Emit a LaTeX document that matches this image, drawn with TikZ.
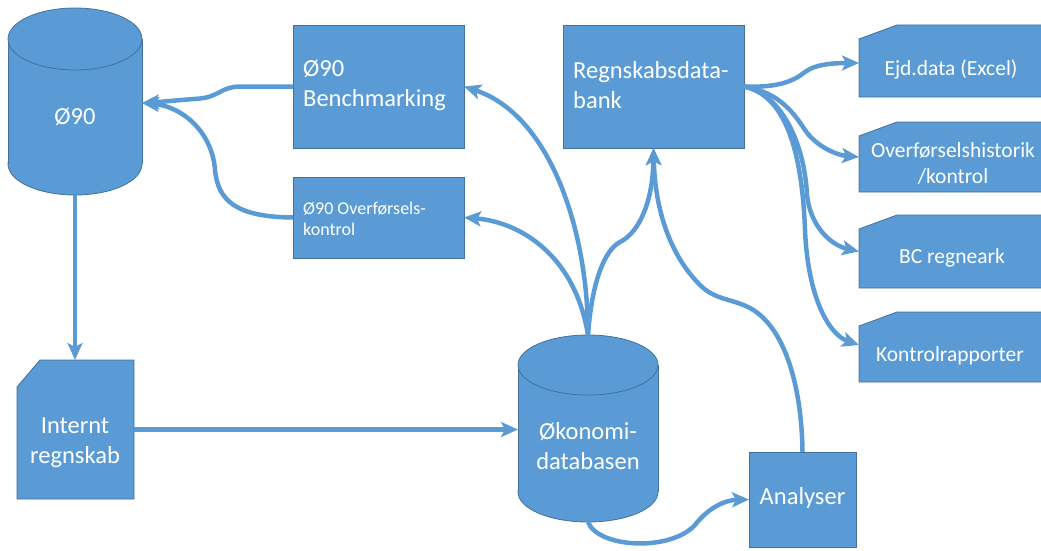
\documentclass[tikz,border=0pt]{standalone}
\usepackage{fontspec}
\setmainfont{Carlito}
\usetikzlibrary{arrows.meta}
\pgfdeclarelayer{bg}
\pgfsetlayers{bg,main}
\definecolor{boxfill}{HTML}{5B9BD5}
\definecolor{boxline}{HTML}{41719C}
\definecolor{linec}{HTML}{5B9BD5}
\tikzset{
  shapebox/.style={draw=boxline, fill=boxfill, line width=0.8pt},
  boxnode/.style={shapebox, rectangle, inner sep=0pt, outer sep=0pt},
  framenode/.style={rectangle, inner sep=0pt, outer sep=0pt, draw=none},
  bigtxt/.style={text=white, inner sep=0pt, font=\fontsize{24.5}{30}\selectfont},
  midtxt/.style={text=white, inner sep=0pt, font=\fontsize{21.5}{26}\selectfont},
  smalltxt/.style={text=white, inner sep=0pt, font=\fontsize{18}{21}\selectfont},
  conn/.style={draw=linec, line width=4.5pt, line join=round,
    -{Stealth[length=17pt,width=15pt,inset=4pt]}},
}
\newcommand\mycyl[3]{%
  \filldraw[shapebox] ([yshift=#3]#1.south) ellipse [x radius=#2, y radius=#3];
  \fill[boxfill] ([yshift=-#3]#1.north west) rectangle ([yshift=#3]#1.south east);
  \draw[boxline, line width=0.8pt] ([yshift=-#3]#1.north west) -- ([yshift=#3]#1.south west)
    ([yshift=-#3]#1.north east) -- ([yshift=#3]#1.south east);
  \filldraw[shapebox] ([yshift=-#3]#1.north) ellipse [x radius=#2, y radius=#3];}
\newcommand\mycard[3]{%
  \filldraw[shapebox] (#1.south west) -- ([yshift=-#3]#1.north west) -- ([xshift=#2]#1.north west)
    -- (#1.north east) -- (#1.south east) -- cycle;}
\begin{document}
\begin{tikzpicture}[x=1pt,y=-1pt]
\useasboundingbox (0,0) rectangle (1041,551);
% shape frames
\node[framenode, minimum width=134pt, minimum height=187pt] (o90) at (75,101.5) {};
\node[framenode, minimum width=140pt, minimum height=187pt] (okon) at (588,428.5) {};
\node[framenode, minimum width=117pt, minimum height=139pt] (internt) at (75.5,429.5) {};
\node[framenode, minimum width=184pt, minimum height=72pt] (ejd) at (951,61) {};
\node[framenode, minimum width=184pt, minimum height=70pt] (ovh) at (951,157) {};
\node[framenode, minimum width=184pt, minimum height=73pt] (bc) at (951,251.5) {};
\node[framenode, minimum width=184pt, minimum height=70pt] (kr) at (951,347) {};
\begin{pgfonlayer}{bg}
  \mycyl{o90}{67pt}{31pt}
  \mycyl{okon}{70pt}{30pt}
  \mycard{internt}{23pt}{27pt}
  \mycard{ejd}{38pt}{14pt}
  \mycard{ovh}{38pt}{14pt}
  \mycard{bc}{38pt}{14pt}
  \mycard{kr}{38pt}{14pt}
\end{pgfonlayer}
% rectangles
\node[boxnode, minimum width=171pt, minimum height=123pt] (bench) at (378.5,86.5) {};
\node[boxnode, minimum width=171pt, minimum height=81pt] (ovk) at (378.5,217.5) {};
\node[boxnode, minimum width=181pt, minimum height=123pt] (regn) at (653.5,86.5) {};
\node[boxnode, minimum width=107pt, minimum height=95pt] (anal) at (802.5,499.5) {};
% texts
\node[bigtxt] (o90t) at (75,117) {Ø90};
\node[bigtxt, anchor=west, align=left] (bencht) at (303,85.5) {Ø90\\Benchmarking};
\node[smalltxt, anchor=west, align=left] (ovkt) at (303,218.5) {Ø90 Overførsels-\\kontrol};
\node[bigtxt, anchor=west, align=left] (regnt) at (573,85.5) {Regnskabsdata-\\bank};
\node[midtxt] (ejdt) at (951,69) {Ejd.data (Excel)};
\node[midtxt, align=center] (ovht) at (953,163) {Overførselshistorik\\/kontrol};
\node[midtxt] (bct) at (952,258) {BC regneark};
\node[midtxt] (krt) at (950,356) {Kontrolrapporter};
\node[bigtxt, align=center] (interntt) at (75,443) {Internt\\regnskab};
\node[bigtxt, align=center] (okont) at (588,446) {Økonomi-\\databasen};
\node[bigtxt] (analt) at (802.5,498) {Analyser};
% connectors
\draw[conn] (o90.south) -- (o90.south |- internt.north);
\draw[conn] (internt.east) -- (internt.east -| okon.west);
\draw[conn] (bench.west) -- (240,86.5) .. controls (222,86.5) and (218,97) .. (200,98.5)
  .. controls (180,100) and (160,102) .. ([yshift=-1.5pt]o90.east);
\draw[conn] (ovk.west) .. controls (235,217) and (218,200) .. (215,170)
  .. controls (212,130) and (180,106) .. ([yshift=-1.5pt]o90.east);
\draw[conn] (okon.north) .. controls (588,230) and (550,115) .. (bench.east);
\draw[conn] (okon.north) .. controls (575,255) and (520,222) .. (ovk.east);
\draw[conn] (okon.north) .. controls (592,280) and (605,250) .. (620,242)
  .. controls (640,232) and (653,200) .. (regn.south);
\draw[conn] (anal.north) .. controls (802,400) and (790,330) .. (750,308)
  .. controls (730,298) and (715,300) .. (700,285)
  .. controls (670,255) and (655,210) .. (regn.south);
\draw[conn] (okon.south) .. controls (598,548) and (670,552) .. (695,525)
  .. controls (708,508) and (725,500) .. (anal.west);
\draw[conn] (regn.east) .. controls (780,88) and (795,80) .. (805,72)
  .. controls (815,64) and (835,63) .. ([yshift=-2pt]ejd.west);
\draw[conn] (regn.east) .. controls (780,92) and (795,115) .. (805,130)
  .. controls (815,145) and (835,155) .. (ovh.west);
\draw[conn] (regn.east) .. controls (785,95) and (805,150) .. (807,195)
  .. controls (810,225) and (830,245) .. (bc.west);
\draw[conn] (regn.east) .. controls (785,95) and (802,150) .. (805,230)
  .. controls (808,300) and (830,335) .. ([yshift=2pt]kr.west);
\end{tikzpicture}
\end{document}
